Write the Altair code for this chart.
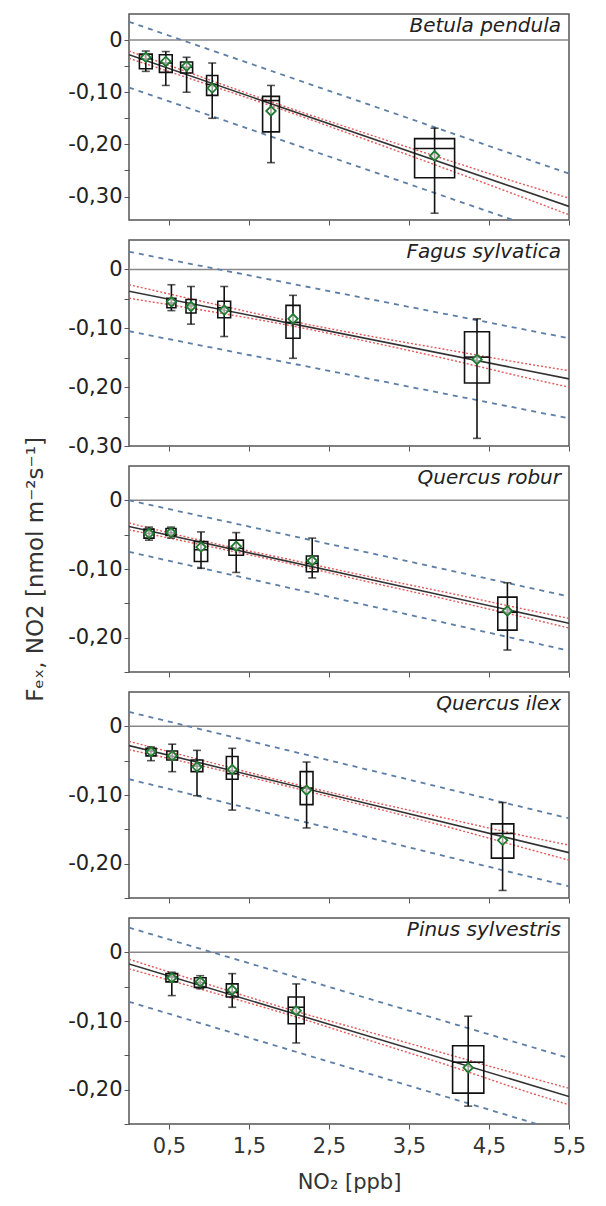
import altair as alt
import pandas as pd

species = ["Betula pendula", "Fagus sylvatica", "Quercus robur", "Quercus ilex", "Pinus sylvestris"]
y_domains = [[-0.345, 0.05], [-0.30, 0.05], [-0.25, 0.05], [-0.25, 0.05], [-0.25, 0.05]]
x_ticks = [0.5, 1.5, 2.5, 3.5, 4.5, 5.5]

# box plots (NO2 class centre, half width of class in ppb, whiskers, quartiles, median, mean)
box_x = [
    [0.21, 0.46, 0.72, 1.04, 1.775, 3.82],
    [0.53, 0.775, 1.19, 2.05, 4.35],
    [0.25, 0.525, 0.90, 1.34, 2.29, 4.73],
    [0.275, 0.54, 0.85, 1.29, 2.22, 4.67],
    [0.535, 0.89, 1.29, 2.09, 4.24],
]
box_halfwidth = [
    [0.08, 0.08, 0.075, 0.07, 0.105, 0.25],
    [0.056, 0.0625, 0.08, 0.0875, 0.156],
    [0.0625, 0.0625, 0.083, 0.09, 0.073, 0.12],
    [0.0625, 0.067, 0.073, 0.073, 0.08, 0.14],
    [0.073, 0.073, 0.073, 0.1, 0.195],
]
whisker_high = [
    [-0.021, -0.022, -0.033, -0.044, -0.087, -0.169],
    [-0.026, -0.029, -0.029, -0.044, -0.084],
    [-0.039, -0.039, -0.046, -0.047, -0.055, -0.120],
    [-0.030, -0.026, -0.035, -0.032, -0.052, -0.111],
    [-0.029, -0.034, -0.031, -0.046, -0.093],
]
q3 = [
    [-0.027, -0.028, -0.042, -0.068, -0.108, -0.189],
    [-0.049, -0.051, -0.054, -0.061, -0.106],
    [-0.042, -0.041, -0.060, -0.058, -0.081, -0.141],
    [-0.032, -0.036, -0.049, -0.044, -0.066, -0.142],
    [-0.031, -0.037, -0.046, -0.065, -0.136],
]
median = [
    [-0.036, -0.044, -0.052, -0.085, -0.116, -0.208],
    [-0.057, -0.062, -0.065, -0.090, -0.149],
    [-0.048, -0.047, -0.072, -0.070, -0.092, -0.163],
    [-0.036, -0.044, -0.058, -0.069, -0.090, -0.156],
    [-0.036, -0.044, -0.058, -0.080, -0.160],
]
q1 = [
    [-0.055, -0.062, -0.063, -0.106, -0.176, -0.264],
    [-0.065, -0.074, -0.082, -0.117, -0.193],
    [-0.055, -0.051, -0.089, -0.080, -0.104, -0.189],
    [-0.043, -0.049, -0.066, -0.077, -0.114, -0.192],
    [-0.043, -0.051, -0.065, -0.104, -0.205],
]
whisker_low = [
    [-0.060, -0.087, -0.100, -0.150, -0.235, -0.332],
    [-0.070, -0.093, -0.114, -0.151, -0.287],
    [-0.058, -0.055, -0.099, -0.105, -0.113, -0.218],
    [-0.050, -0.066, -0.101, -0.122, -0.148, -0.239],
    [-0.063, -0.053, -0.080, -0.132, -0.224],
]
mean = [
    [-0.033, -0.041, -0.050, -0.092, -0.136, -0.222],
    [-0.055, -0.063, -0.069, -0.084, -0.153],
    [-0.048, -0.047, -0.068, -0.067, -0.088, -0.161],
    [-0.037, -0.043, -0.059, -0.063, -0.093, -0.166],
    [-0.037, -0.043, -0.055, -0.085, -0.168],
]

# regression line (values at NO2 = 0 and 5.5)
fit_x = [0.0, 5.5]
fit_y = [
    [-0.028, -0.319],
    [-0.037, -0.186],
    [-0.038, -0.179],
    [-0.028, -0.184],
    [-0.017, -0.210],
]
# confidence band (red dotted)
ci_x = [0, 1, 2, 3, 4, 5, 5.5]
ci_upper = [
    [-0.021, -0.076, -0.130, -0.181, -0.231, -0.280, -0.303],
    [-0.026, -0.057, -0.087, -0.113, -0.137, -0.161, -0.172],
    [-0.033, -0.061, -0.086, -0.111, -0.135, -0.160, -0.172],
    [-0.022, -0.052, -0.082, -0.109, -0.135, -0.161, -0.173],
    [-0.010, -0.047, -0.083, -0.116, -0.149, -0.182, -0.198],
]
ci_lower = [
    [-0.035, -0.086, -0.138, -0.193, -0.249, -0.306, -0.335],
    [-0.049, -0.071, -0.095, -0.123, -0.153, -0.185, -0.200],
    [-0.043, -0.067, -0.092, -0.119, -0.145, -0.172, -0.186],
    [-0.034, -0.060, -0.088, -0.117, -0.147, -0.179, -0.195],
    [-0.024, -0.057, -0.091, -0.128, -0.165, -0.204, -0.222],
]
# prediction band (blue dashed), values at NO2 = 0 and 5.5
pi_upper = [
    [0.035, -0.256],
    [0.030, -0.117],
    [0.000, -0.140],
    [0.021, -0.134],
    [0.036, -0.154],
]
pi_lower = [
    [-0.091, -0.382],
    [-0.105, -0.253],
    [-0.075, -0.219],
    [-0.077, -0.233],
    [-0.072, -0.264],
]

FONT = "DejaVu Sans"
W, H = 440, 206


def ylabel_expr():
    return ("round(datum.value*100) % 10 != 0 ? '' : "
            "(abs(datum.value) < 1e-9 ? '0' : "
            "'-' + replace(format(abs(datum.value), '.2f'), '.', ','))")


def panel(i):
    n = len(species)
    last = i == n - 1
    lo, hi = y_domains[i]
    yvals = [round(v * 0.05, 2) for v in range(0, -8, -1) if v * 0.05 >= lo - 1e-9]

    xs = alt.Scale(domain=[0, 5.5], nice=False, zero=False)
    ys = alt.Scale(domain=[lo, hi], nice=False, zero=False)

    xaxis = alt.Axis(
        values=x_ticks, domain=False, grid=False, tickSize=5, labels=last,
        labelExpr="replace(format(datum.value, '.1f'), '.', ',')",
        labelFontSize=21, labelFont=FONT, labelPadding=6, labelColor="#333",
        title="NO₂ [ppb]" if last else None, titleFontSize=21, titleFont=FONT,
        titleFontWeight="normal", titlePadding=15, titleColor="#333",
        tickColor="#555", labelFlush=False,
    )
    yaxis = alt.Axis(
        values=yvals, domain=False, grid=False, tickSize=5,
        labelExpr=ylabel_expr(), labelFontSize=21, labelFont=FONT,
        labelPadding=2, labelColor="#222", tickColor="#555",
        title="Fₑₓ, NO2 [nmol m⁻²s⁻¹]" if i == 2 else None,
        titleFontSize=23, titleFont=FONT, titleFontWeight="normal",
        titlePadding=20, titleColor="#333",
    )

    X = alt.X("x:Q", scale=xs, axis=xaxis)
    Y = alt.Y("y:Q", scale=ys, axis=yaxis)

    zero = alt.Chart(pd.DataFrame({"y": [0.0]})).mark_rule(
        color="#888", strokeWidth=1.5).encode(y=alt.Y("y:Q", scale=ys, axis=yaxis))

    pi_df = pd.DataFrame({
        "x": fit_x * 2,
        "y": pi_upper[i] + pi_lower[i],
        "band": ["upper"] * 2 + ["lower"] * 2,
    })
    pi = alt.Chart(pi_df).mark_line(
        color="#5d7ea6", strokeDash=[5, 5], strokeWidth=1.8, clip=True
    ).encode(x=X, y=Y, detail="band:N")

    ci_df = pd.DataFrame({
        "x": ci_x * 2,
        "y": ci_upper[i] + ci_lower[i],
        "band": ["upper"] * len(ci_x) + ["lower"] * len(ci_x),
    })
    ci = alt.Chart(ci_df).mark_line(
        color="#e05a5a", strokeDash=[2, 2], strokeWidth=1.4, clip=True,
        interpolate="monotone"
    ).encode(x=X, y=Y, detail="band:N")

    fit = alt.Chart(pd.DataFrame({"x": fit_x, "y": fit_y[i]})).mark_line(
        color="#333", strokeWidth=1.6, clip=True).encode(x=X, y=Y)

    bdf = pd.DataFrame({
        "xc": box_x[i],
        "hw": box_halfwidth[i],
        "wl": whisker_low[i],
        "q1": q1[i],
        "med": median[i],
        "q3": q3[i],
        "wh": whisker_high[i],
        "mean": mean[i],
    })
    bdf["xlo"] = bdf["xc"] - bdf["hw"]
    bdf["xhi"] = bdf["xc"] + bdf["hw"]
    base = alt.Chart(bdf)

    whisk = base.mark_rule(color="#111", strokeWidth=1.6).encode(
        x=alt.X("xc:Q", scale=xs, axis=xaxis),
        y=alt.Y("wl:Q", scale=ys, axis=yaxis), y2="wh:Q")
    caps_lo = base.mark_tick(color="#111", orient="horizontal", size=8, thickness=1.6).encode(
        x=alt.X("xc:Q", scale=xs, axis=xaxis), y=alt.Y("wl:Q", scale=ys, axis=yaxis))
    caps_hi = base.mark_tick(color="#111", orient="horizontal", size=8, thickness=1.6).encode(
        x=alt.X("xc:Q", scale=xs, axis=xaxis), y=alt.Y("wh:Q", scale=ys, axis=yaxis))
    box = base.mark_rect(fill="white", fillOpacity=0.0, stroke="#111", strokeWidth=1.6).encode(
        x=alt.X("xlo:Q", scale=xs, axis=xaxis), x2="xhi:Q",
        y=alt.Y("q1:Q", scale=ys, axis=yaxis), y2="q3:Q")
    med = base.mark_rule(color="#111", strokeWidth=1.6).encode(
        x=alt.X("xlo:Q", scale=xs, axis=xaxis), x2="xhi:Q",
        y=alt.Y("med:Q", scale=ys, axis=yaxis))
    mn = base.mark_point(shape="diamond", filled=True, fill="white", fillOpacity=0.6,
                         stroke="#1f7a30", strokeWidth=1.8, size=90, opacity=1).encode(
        x=alt.X("xc:Q", scale=xs, axis=xaxis), y=alt.Y("mean:Q", scale=ys, axis=yaxis))

    label = alt.Chart(pd.DataFrame({"x": [5.5], "y": [hi], "t": [species[i]]})).mark_text(
        align="right", baseline="top", dx=-8, dy=2, fontStyle="italic",
        fontSize=20, font=FONT, color="#222").encode(x=X, y=Y, text="t:N")

    return alt.layer(zero, pi, ci, fit, whisk, caps_lo, caps_hi, box, med, mn, label).properties(
        width=W, height=H)


chart = alt.vconcat(*[panel(i) for i in range(len(species))], spacing=20, bounds="flush").properties(
    padding={"left": 15, "top": 5, "right": 5, "bottom": 5}
).configure_view(stroke="#555", strokeWidth=1.5)

chart.save("out.html", embed_options={"renderer": "svg", "actions": False})
